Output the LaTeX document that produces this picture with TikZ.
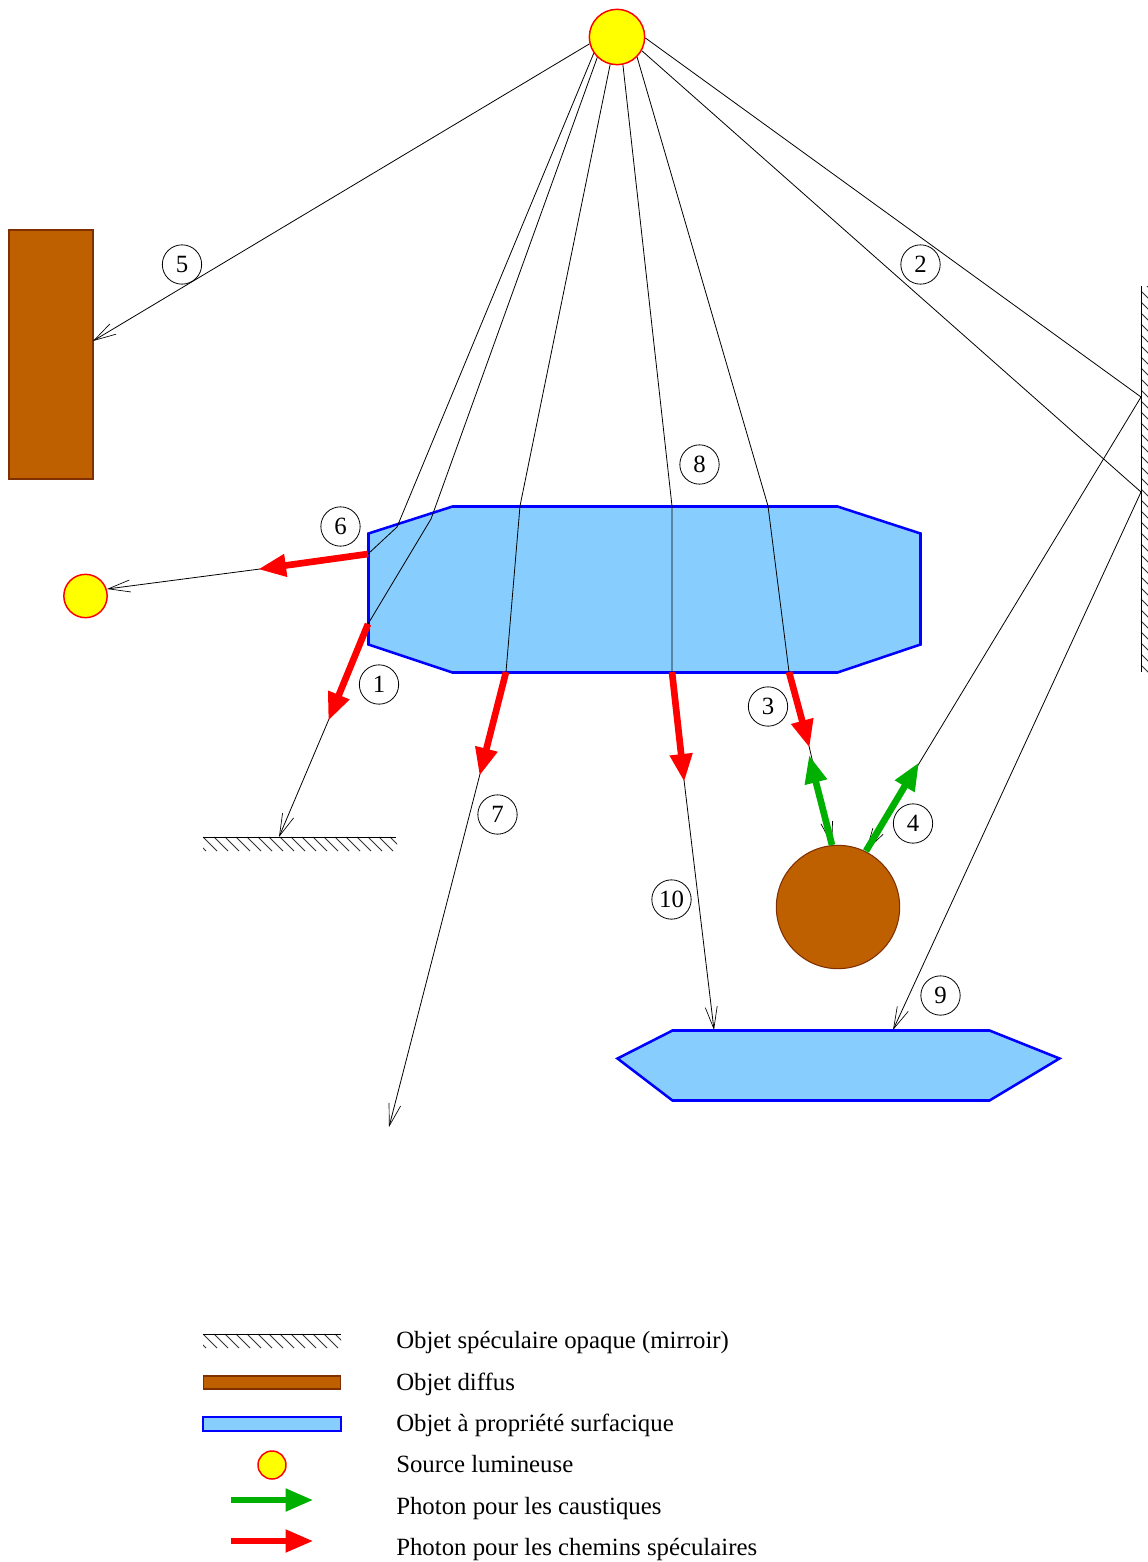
\documentclass[tikz,border=0pt]{standalone}
\usepackage{fontspec}
\setmainfont{Liberation Serif}
\usetikzlibrary{arrows.meta}
\definecolor{brownobj}{RGB}{191,96,0}
\definecolor{brownedge}{RGB}{128,48,0}
\definecolor{blueobj}{RGB}{135,206,255}
\definecolor{greenph}{RGB}{0,176,0}
\definecolor{sunfill}{RGB}{255,255,0}
\definecolor{pure red}{RGB}{255,0,0}
\definecolor{pure blue}{RGB}{0,0,255}
\tikzset{
  ray/.style={draw=black,line width=0.6pt},
  rayend/.style={ray,-{Straight Barb[length=16.5pt,width=9pt,line width=0.5pt]}},
  redph/.style={draw=pure red,line width=5pt,-{Triangle[length=21pt,width=16pt]},shorten >=-1.5pt},
  greenarrow/.style={draw=greenph,line width=5pt,-{Triangle[length=21pt,width=16pt]},shorten >=-1.5pt},
  num/.style={circle,draw=black,line width=0.6pt,minimum size=29.5pt,inner sep=0pt,font=\fontsize{18.6}{22}\selectfont},
  lightsrc/.style={circle,draw=pure red,line width=1.1pt,fill=sunfill,inner sep=0pt},
  surfobj/.style={draw=pure blue,line width=1.9pt,fill=blueobj},
  diffobj/.style={draw=brownedge,line width=1.7pt,fill=brownobj},
  mirrorline/.style={draw=black,line width=0.75pt},
  hatch/.style={draw=black!80,line width=0.55pt},
  legendtext/.style={anchor=base west,inner sep=0pt,font=\fontsize{18.6}{22}\selectfont},
}
\begin{document}
\begin{tikzpicture}[x=0.75pt,y=-0.75pt]
\useasboundingbox (0,0) rectangle (1148,1562);
% objects
\node[diffobj,rectangle,minimum width=62.5pt,minimum height=186.5pt,inner sep=0pt] (wall) at (51,354.5) {};
\draw[surfobj,shift={(0.5,0.5)}] (368,533) -- (452,506) -- (837,506) -- (920,533) -- (920,644) -- (837,672) -- (452,672) -- (368,644) -- cycle;
\draw[surfobj,shift={(0.5,0.5)}] (617,1058) -- (672,1030) -- (989,1030) -- (1059,1058) -- (989,1100) -- (672,1100) -- cycle;
\node[circle,draw=brownedge,line width=0.8pt,fill=brownobj,minimum size=92.5pt,inner sep=0pt] (ball) at (838,907) {};
\node[lightsrc,minimum size=41.5pt] (sun) at (617,37) {};
\node[lightsrc,minimum size=32.5pt] (sunb) at (85.5,596) {};
% mirrors
\begin{scope}
\clip (203,836) rectangle (397,852);
\foreach \x in {192,203,...,400} \draw[hatch] (\x,837) -- (\x+14,851);
\end{scope}
\draw[mirrorline] (203,837.5) -- (396,837.5);
\begin{scope}
\clip (1140,286) rectangle (1148,672);
\foreach \y in {280,291,...,680} \draw[hatch] (1141,\y) -- (1155,\y+14);
\end{scope}
\draw[mirrorline] (1141.5,286) -- (1141.5,672);
% ray points
\coordinate (wallhit) at (93,341);
\coordinate (a6) at (397,527);
\coordinate (b6) at (368,554);
\coordinate (c6) at (260,569);
\coordinate (sunbhit) at (107,589);
\coordinate (a1) at (431,519);
\coordinate (b1) at (368,624);
\coordinate (c1) at (329,719);
\coordinate (d1) at (279,837);
\coordinate (a7) at (520,506);
\coordinate (b7) at (506,672);
\coordinate (c7) at (480,774);
\coordinate (d7) at (389,1127);
\coordinate (a10) at (672,506);
\coordinate (b10) at (672,672);
\coordinate (c10) at (684,780);
\coordinate (d10) at (714,1030);
\coordinate (a3) at (768,506);
\coordinate (b3) at (789,672);
\coordinate (c3) at (809,746);
\coordinate (d3) at (809.5,757);
\coordinate (e3) at (832,845);
\coordinate (m4) at (1141,397);
\coordinate (c4) at (918,764);
\coordinate (e4) at (866,851);
\coordinate (m9) at (1141,492);
\coordinate (d9) at (893,1030);
% thin rays
\draw[rayend] (sun.-166) -- (wallhit);
\draw[ray] (sun.-145) -- (a6) -- (b6);
\draw[rayend] (c6) -- (sunbhit);
\draw[ray] (sun.-134) -- (a1) -- (b1);
\draw[rayend] (c1) -- (d1);
\draw[ray] (sun.-104) -- (a7) -- (b7);
\draw[rayend] (c7) -- (d7);
\draw[ray] (sun.-78) -- (a10) -- (b10);
\draw[rayend] (c10) -- (d10);
\draw[ray] (sun.-45) -- (a3) -- (b3);
\draw[rayend] (c3) -- (e3);
\draw[ray] (sun.-2) -- (m4);
\draw[rayend] (m4) -- (e4);
\draw[ray] (sun.-29) -- (m9);
\draw[rayend] (m9) -- (d9);
% photons
\draw[redph] (b6) -- (c6);
\draw[redph] (b1) -- (c1);
\draw[redph] (b7) -- (c7);
\draw[redph] (b10) -- (c10);
\draw[redph] (b3) -- (c3);
\draw[greenarrow] (e3) -- (d3);
\draw[greenarrow] (e4) -- (c4);
% numbers
\node[num] (n5) at (182,264.5) {5};
\node[num] (n2) at (920.5,264.5) {2};
\node[num] (n8) at (699.5,464.5) {8};
\node[num] (n6) at (340.5,526.5) {6};
\node[num] (n1) at (379,684.5) {1};
\node[num] (n3) at (768,706.5) {3};
\node[num] (n4) at (913,823.5) {4};
\node[num] (n7) at (497.5,814.5) {7};
\node[num] (n10) at (671.5,899.5) {10};
\node[num] (n9) at (940.5,995.5) {9};
% legend
\begin{scope}
\clip (203,1333) rectangle (341,1349);
\foreach \x in {192,203,...,345} \draw[hatch] (\x,1334) -- (\x+14,1348);
\end{scope}
\draw[mirrorline] (203,1334) -- (341,1334);
\node[diffobj,rectangle,line width=1.2pt,minimum width=103pt,minimum height=10pt,inner sep=0pt] (legdiff) at (272,1382.5) {};
\node[surfobj,rectangle,line width=1.4pt,minimum width=103pt,minimum height=10pt,inner sep=0pt] (legsurf) at (272,1424) {};
\node[lightsrc,minimum size=21pt] (legsun) at (272,1465) {};
\coordinate (lga) at (231,1500);
\coordinate (lgb) at (311.5,1500);
\coordinate (lra) at (231,1541);
\coordinate (lrb) at (311.5,1541);
\draw[greenarrow] (lga) -- (lgb);
\draw[redph] (lra) -- (lrb);
\node[legendtext] (t1) at (396,1348) {Objet spéculaire opaque (mirroir)};
\node[legendtext] (t2) at (396,1390) {Objet diffus};
\node[legendtext] (t3) at (396,1431) {Objet à propriété surfacique};
\node[legendtext] (t4) at (396,1472) {Source lumineuse};
\node[legendtext] (t5) at (396,1514) {Photon pour les caustiques};
\node[legendtext] (t6) at (396,1555) {Photon pour les chemins spéculaires};
\end{tikzpicture}
\end{document}
